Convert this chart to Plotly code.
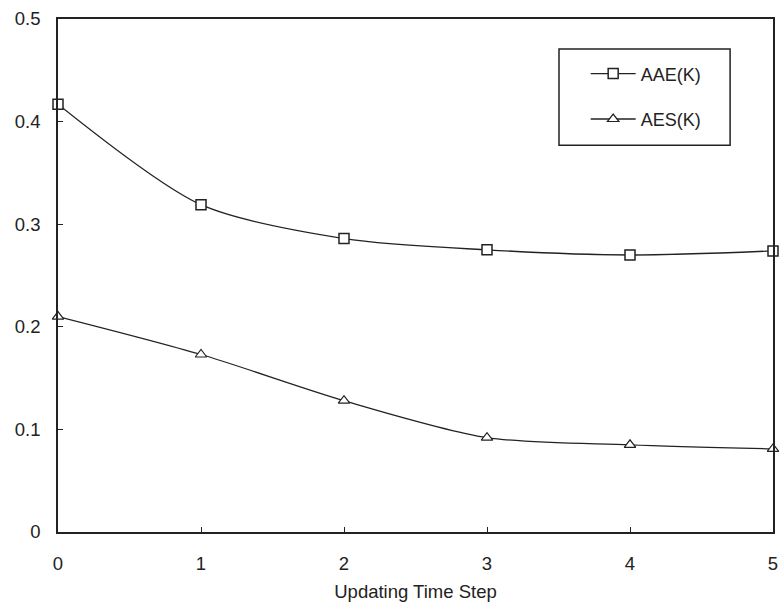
import plotly.graph_objects as go

steps = [0, 1, 2, 3, 4, 5]
aae = [0.417, 0.319, 0.286, 0.275, 0.270, 0.274]
aes = [0.210, 0.173, 0.128, 0.092, 0.085, 0.081]

fig = go.Figure()
fig.add_trace(go.Scatter(x=steps, y=aae, name="AAE(K)", mode="lines+markers",
                         line=dict(color="#222", width=1.3, shape="spline", smoothing=0.8),
                         marker=dict(symbol="square", size=10, color="white",
                                     line=dict(width=1.5, color="#222")),
                         cliponaxis=False, legendgroup="a"))
fig.add_trace(go.Scatter(x=steps, y=aes, name="AES(K)", mode="lines+markers",
                         line=dict(color="#222", width=1.3, shape="spline", smoothing=0.8),
                         marker=dict(symbol="triangle-up", size=10, color="white",
                                     line=dict(width=1.2, color="#222")),
                         cliponaxis=False, legendgroup="b"))

fig.add_shape(type="rect", xref="paper", yref="paper",
              x0=0.7007, x1=0.940, y0=0.754, y1=0.9415,
              line=dict(color="#222", width=1.5), fillcolor="white", layer="below")

fig.update_layout(
    width=784, height=608,
    margin=dict(l=58, r=11, t=19, b=76, autoexpand=False),
    paper_bgcolor="white", plot_bgcolor="white",
    font=dict(family="Liberation Sans, Arial, sans-serif", size=18.5, color="#222"),
    showlegend=True,
    legend=dict(x=0.738, y=0.929, xanchor="left", yanchor="top",
                borderwidth=0, bgcolor="rgba(0,0,0,0)",
                tracegroupgap=19, traceorder="grouped", itemwidth=45,
                font=dict(size=18)),
    xaxis=dict(range=[0, 5], tickvals=steps, ticks="inside", ticklen=5, tickcolor="#222",
               showline=True, linecolor="#222", linewidth=1.5, mirror=True,
               showgrid=False, zeroline=False, tickfont=dict(size=18.5),
               ticklabelstandoff=14, automargin=False,
               title=dict(text="Updating Time Step", standoff=12, font=dict(size=18.5))),
    yaxis=dict(range=[0, 0.5], tickvals=[0, 0.1, 0.2, 0.3, 0.4, 0.5],
               ticktext=["0", "0.1", "0.2", "0.3", "0.4", "0.5"],
               ticks="inside", ticklen=5, tickcolor="#222", tickfont=dict(size=18.5),
               ticklabelstandoff=12, automargin=False,
               showline=True, linecolor="#222", linewidth=1.5, mirror=True,
               showgrid=False, zeroline=False),
)
fig.write_html("out.html", config={"displayModeBar": False},
               post_script="document.body.style.margin='0';")
